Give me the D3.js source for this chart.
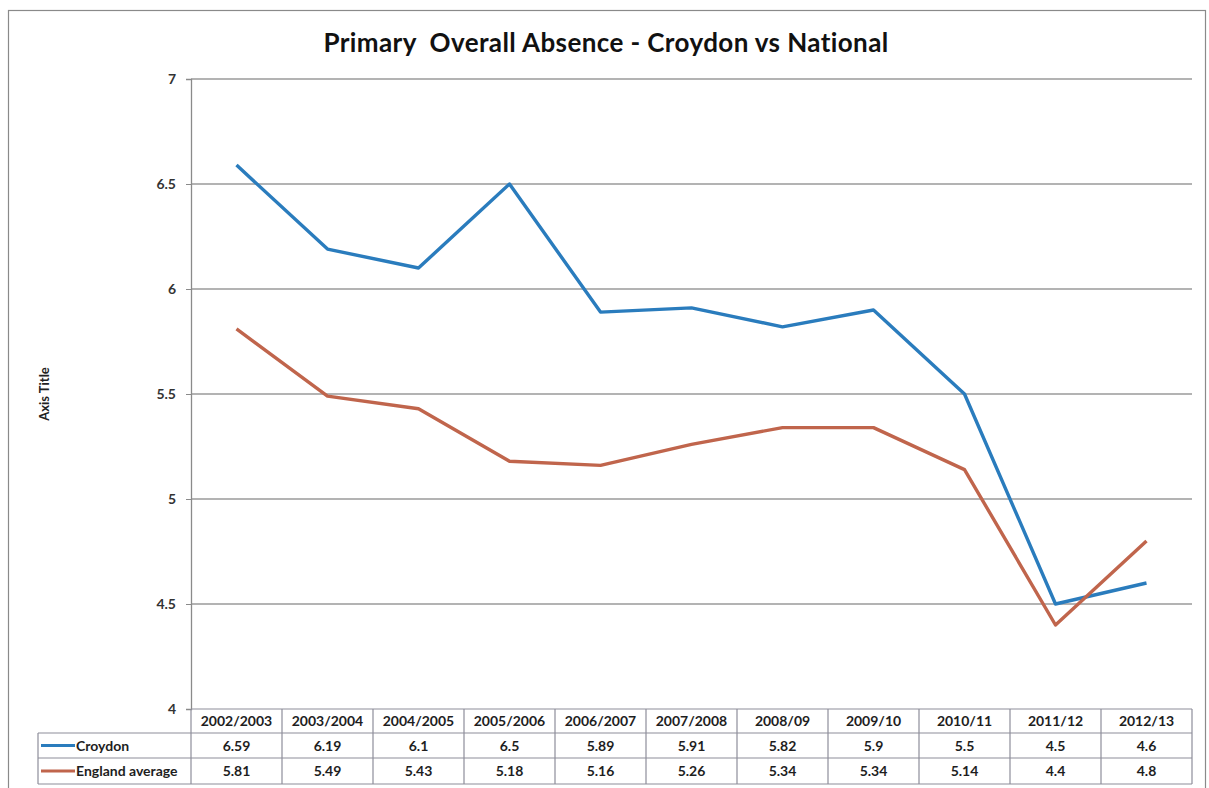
<!DOCTYPE html>
<html>
<head>
<meta charset="utf-8">
<script src="https://cdn.jsdelivr.net/npm/d3@7"></script>
<style>
  html, body { margin: 0; padding: 0; background: #fff; }
  svg { display: block; font-family: Lato, "Open Sans", sans-serif; }
</style>
</head>
<body>
<svg id="chart" width="1209" height="788"></svg>
<script>
// School years shown along the x axis and in the data table
const categories = ["2002/2003", "2003/2004", "2004/2005", "2005/2006", "2006/2007",
  "2007/2008", "2008/09", "2009/10", "2010/11", "2011/12", "2012/13"];
// Overall absence (%) by year
const croydon = [6.59, 6.19, 6.1, 6.5, 5.89, 5.91, 5.82, 5.9, 5.5, 4.5, 4.6];
const englandAverage = [5.81, 5.49, 5.43, 5.18, 5.16, 5.26, 5.34, 5.34, 5.14, 4.4, 4.8];
const seriesNames = ["Croydon", "England average"];
const yTicks = [4, 4.5, 5, 5.5, 6, 6.5, 7];
const title = "Primary  Overall Absence - Croydon vs National";
const yAxisTitle = "Axis Title";

const colors = ["#2a7cbd", "#c0654c"];
const series = [croydon, englandAverage];

const svg = d3.select("#chart");
const plot = { left: 191, right: 1192, top: 79, bottom: 709 };
const legendLeft = 38;
const rowH = [24, 25, 26];
const textFill = "#1e1e1e";

// Outer chart frame
svg.append("rect")
  .attr("x", 8.5).attr("y", 10.5).attr("width", 1197).attr("height", 780)
  .attr("fill", "none").attr("stroke", "#8a8a8a").attr("stroke-width", 1.2);

// Title
svg.append("text")
  .attr("x", 606).attr("y", 52)
  .attr("text-anchor", "middle")
  .style("white-space", "pre")
  .attr("font-size", 26).attr("font-weight", "bold").attr("fill", "#111")
  .attr("letter-spacing", 0.4)
  .text(title);

const x = d3.scaleBand().domain(categories).range([plot.left, plot.right]);
const y = d3.scaleLinear().domain([4, 7]).range([plot.bottom, plot.top]);

// Horizontal gridlines
svg.append("g")
  .selectAll("line")
  .data(yTicks.filter(t => t > 4))
  .join("line")
  .attr("x1", plot.left).attr("x2", plot.right)
  .attr("y1", d => y(d)).attr("y2", d => y(d))
  .attr("stroke", "#9a9a9a").attr("stroke-width", 1.3);

// Y axis
const yAxis = svg.append("g")
  .attr("transform", `translate(${plot.left},0)`)
  .call(d3.axisLeft(y).tickValues(yTicks).tickSize(5).tickFormat(d3.format("")));
yAxis.select(".domain").attr("stroke", "#8a8a8a").attr("stroke-width", 1.3);
yAxis.selectAll(".tick line").attr("stroke", "#8a8a8a");
yAxis.selectAll(".tick text")
  .attr("x", -15)
  .attr("font-size", 14).attr("font-weight", "bold").attr("fill", "#333")
  .attr("font-family", "Lato, 'Open Sans', sans-serif");

// Y axis title
svg.append("text")
  .attr("transform", `translate(49,${(plot.top + plot.bottom) / 2}) rotate(-90)`)
  .attr("text-anchor", "middle")
  .attr("font-size", 13).attr("font-weight", "bold").attr("fill", "#222")
  .text(yAxisTitle);

// Series lines
const line = d3.line()
  .x((d, i) => x(categories[i]) + x.bandwidth() / 2)
  .y(d => y(d));
svg.append("g")
  .selectAll("path")
  .data(series)
  .join("path")
  .attr("d", d => line(d))
  .attr("fill", "none")
  .attr("stroke", (d, i) => colors[i])
  .attr("stroke-width", 3.4)
  .attr("stroke-linejoin", "round");

// Data table under the plot
const table = svg.append("g");
const rowTop = [plot.bottom, plot.bottom + rowH[0], plot.bottom + rowH[0] + rowH[1]];
const tableBottom = rowTop[2] + rowH[2];
const gridStroke = "#8e8e9a";

// Header row
table.selectAll("text.hdr")
  .data(categories)
  .join("text")
  .attr("class", "hdr")
  .attr("x", d => x(d) + x.bandwidth() / 2)
  .attr("y", rowTop[0] + rowH[0] / 2 + 5)
  .attr("text-anchor", "middle")
  .attr("font-size", 14).attr("font-weight", "bold").attr("fill", textFill)
  .text(d => d);

// Horizontal rules
table.selectAll("line.h")
  .data([
    { y: rowTop[0], x1: plot.left },
    { y: rowTop[1], x1: legendLeft },
    { y: rowTop[2], x1: legendLeft },
    { y: tableBottom, x1: legendLeft }
  ])
  .join("line")
  .attr("x1", d => d.x1).attr("x2", plot.right)
  .attr("y1", d => d.y).attr("y2", d => d.y)
  .attr("stroke", gridStroke).attr("stroke-width", 1.2);

// Vertical rules
const vx = categories.map(c => x(c)).concat([plot.right]);
table.selectAll("line.v")
  .data(vx)
  .join("line")
  .attr("x1", d => d).attr("x2", d => d)
  .attr("y1", rowTop[0]).attr("y2", tableBottom)
  .attr("stroke", gridStroke).attr("stroke-width", 1.2);
table.append("line")
  .attr("x1", legendLeft).attr("x2", legendLeft)
  .attr("y1", rowTop[1]).attr("y2", tableBottom)
  .attr("stroke", gridStroke).attr("stroke-width", 1.2);

// Value rows with legend keys
series.forEach((vals, si) => {
  const ty = rowTop[si + 1] + rowH[si + 1] / 2 + 5;
  table.append("line")
    .attr("x1", legendLeft + 3).attr("x2", legendLeft + 37)
    .attr("y1", ty - 5).attr("y2", ty - 5)
    .attr("stroke", colors[si]).attr("stroke-width", 3);
  table.append("text")
    .attr("x", legendLeft + 38).attr("y", ty)
    .attr("font-size", 14).attr("font-weight", "bold").attr("fill", textFill)
    .text(seriesNames[si]);
  table.selectAll(null)
    .data(vals)
    .join("text")
    .attr("x", (d, i) => x(categories[i]) + x.bandwidth() / 2)
    .attr("y", ty)
    .attr("text-anchor", "middle")
    .attr("font-size", 14).attr("font-weight", "bold").attr("fill", textFill)
    .text(d => d);
});
</script>
</body>
</html>
